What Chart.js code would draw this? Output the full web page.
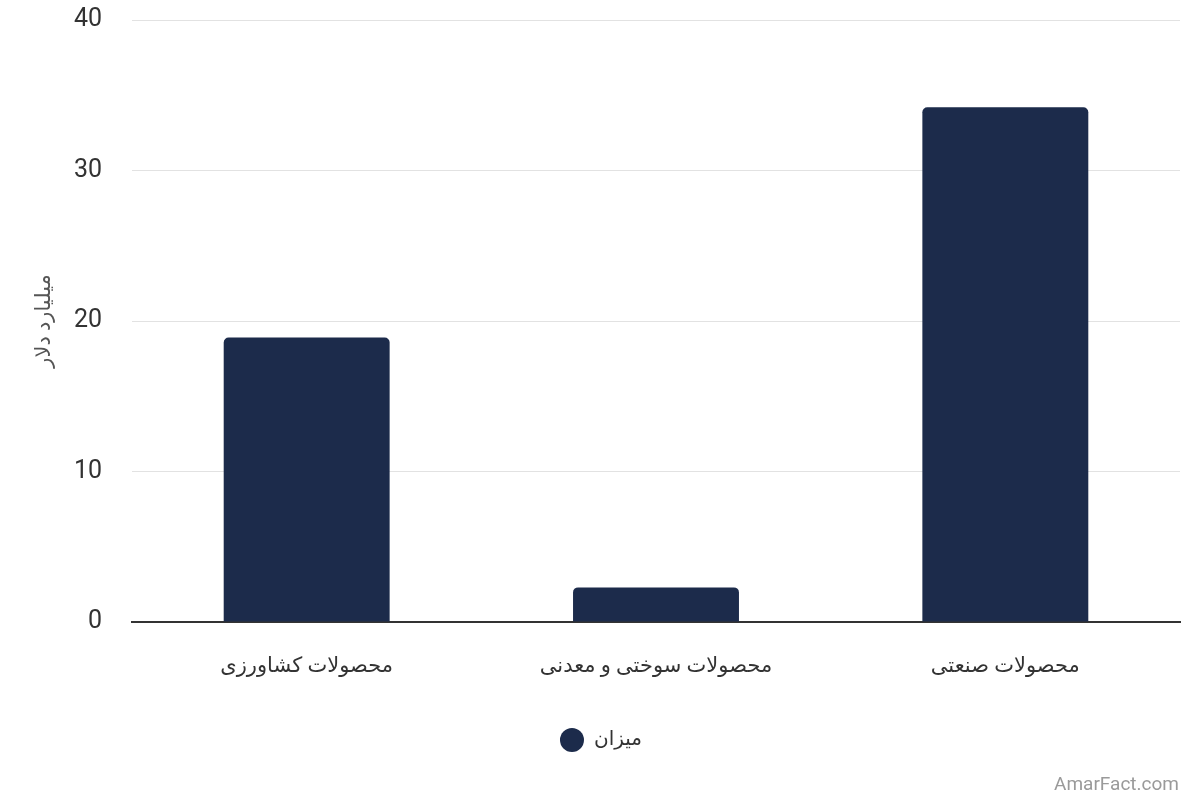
<!DOCTYPE html>
<html>
<head>
<meta charset="utf-8">
<script src="https://cdn.jsdelivr.net/npm/chart.js@4.4.0/dist/chart.umd.min.js"></script>
<style>
  html, body { margin: 0; padding: 0; background: #ffffff; }
  #wrap { position: relative; width: 1200px; height: 800px; }
  #wm { position: absolute; right: 21px; bottom: 5px; font: 19px Roboto, sans-serif; color: #9a9a9a; }
</style>
</head>
<body>
<div id="wrap">
  <canvas id="c" width="1200" height="800"></canvas>
  <div id="wm">AmarFact.com</div>
</div>
<script>
const categories = ["محصولات کشاورزی", "محصولات سوختی و معدنی", "محصولات صنعتی"];
const seriesName = "میزان";
const values = [18.9, 2.3, 34.2];
const yTicks = [0, 10, 20, 30, 40];
const yTitle = "میلیارد دلار";

const FONT = "Roboto, 'DejaVu Sans', sans-serif";
const BAR = "#1c2b4b";

new Chart(document.getElementById("c"), {
  type: "bar",
  data: {
    labels: categories,
    datasets: [{
      label: seriesName,
      data: values,
      backgroundColor: BAR,
      borderRadius: { topLeft: 5, topRight: 5 },
      borderSkipped: "bottom",
      barPercentage: 0.475,
      categoryPercentage: 1.0
    }]
  },
  options: {
    responsive: false,
    animation: false,
    layout: { padding: { top: 20, right: 20, bottom: 40, left: 22 } },
    plugins: {
      tooltip: { enabled: false },
      legend: {
        position: "bottom",
        labels: {
          usePointStyle: true,
          pointStyle: "circle",
          boxHeight: 17,
          pointStyleWidth: 24,
          padding: 10,
          color: "#333333",
          font: { family: FONT, size: 20 }
        }
      }
    },
    scales: {
      x: {
        grid: { display: false, drawTicks: false },
        border: { display: true, color: "#333333", width: 2 },
        ticks: { color: "#333333", padding: 32, font: { family: FONT, size: 21 } },
        afterFit: (s) => { s.height = 98; }
      },
      y: {
        min: 0, max: 40,
        afterBuildTicks: (s) => { s.ticks = yTicks.map(v => ({ value: v })); },
        grid: { color: (ctx) => ctx.tick && ctx.tick.value === 0 ? "rgba(0,0,0,0)" : "#e2e2e2", drawTicks: false, lineWidth: 1 },
        border: { display: false },
        ticks: { color: "#333333", padding: 30, font: { family: FONT, size: 25 } },
        title: { display: true, text: yTitle, color: "#555555", padding: { top: 10, bottom: 0 }, font: { family: FONT, size: 21 } },
        afterFit: (s) => { s.width = 110; s.paddingTop = 0; s.paddingBottom = 0; }
      }
    }
  }
});
</script>
</body>
</html>
